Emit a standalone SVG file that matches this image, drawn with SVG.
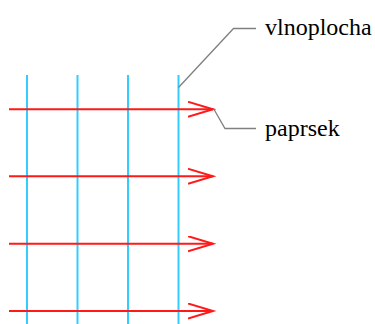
<svg xmlns="http://www.w3.org/2000/svg" width="375" height="324" viewBox="0 0 375 324">
<style>
.wave{stroke:#33ccff;stroke-width:2;fill:none}
.ray{stroke:#ff1a1a;stroke-width:2;fill:none}
.lead{stroke:#808080;stroke-width:1.3;fill:none}
.lbl{font-family:"Liberation Serif","Times New Roman",serif;font-size:24px;fill:#000}
</style>
<defs>
<marker id="open" markerUnits="userSpaceOnUse" markerWidth="30" markerHeight="20" refX="25" refY="8" orient="auto" viewBox="0 0 30 20">
<path d="M0,0.5 L25,8 L0,15.5" stroke="#ff1a1a" stroke-width="2" fill="none"/>
</marker>
</defs>
<rect width="375" height="324" fill="#fff"/>
<g id="wavefronts">
<line class="wave" x1="27" y1="75" x2="27" y2="324"/>
<line class="wave" x1="77.5" y1="75" x2="77.5" y2="324"/>
<line class="wave" x1="128" y1="75" x2="128" y2="324"/>
<line class="wave" x1="178.5" y1="75" x2="178.5" y2="324"/>
</g>
<g id="rays">
<line class="ray" x1="9" y1="109.3" x2="213" y2="109.3" marker-end="url(#open)"/>
<line class="ray" x1="9" y1="176.3" x2="213" y2="176.3" marker-end="url(#open)"/>
<line class="ray" x1="9" y1="243.7" x2="213" y2="243.7" marker-end="url(#open)"/>
<line class="ray" x1="9" y1="311" x2="213" y2="311" marker-end="url(#open)"/>
</g>
<g id="connectors">
<polyline class="lead" points="178.5,87.5 233.5,28.5 256,28.5"/>
<polyline class="lead" points="213.5,108.5 225,128.5 256,128.5"/>
</g>
<g id="label-vlnoplocha">
<text class="lbl" x="265" y="35">vlnoplocha</text>
</g>
<g id="label-paprsek">
<text class="lbl" x="265" y="136">paprsek</text>
</g>
</svg>
